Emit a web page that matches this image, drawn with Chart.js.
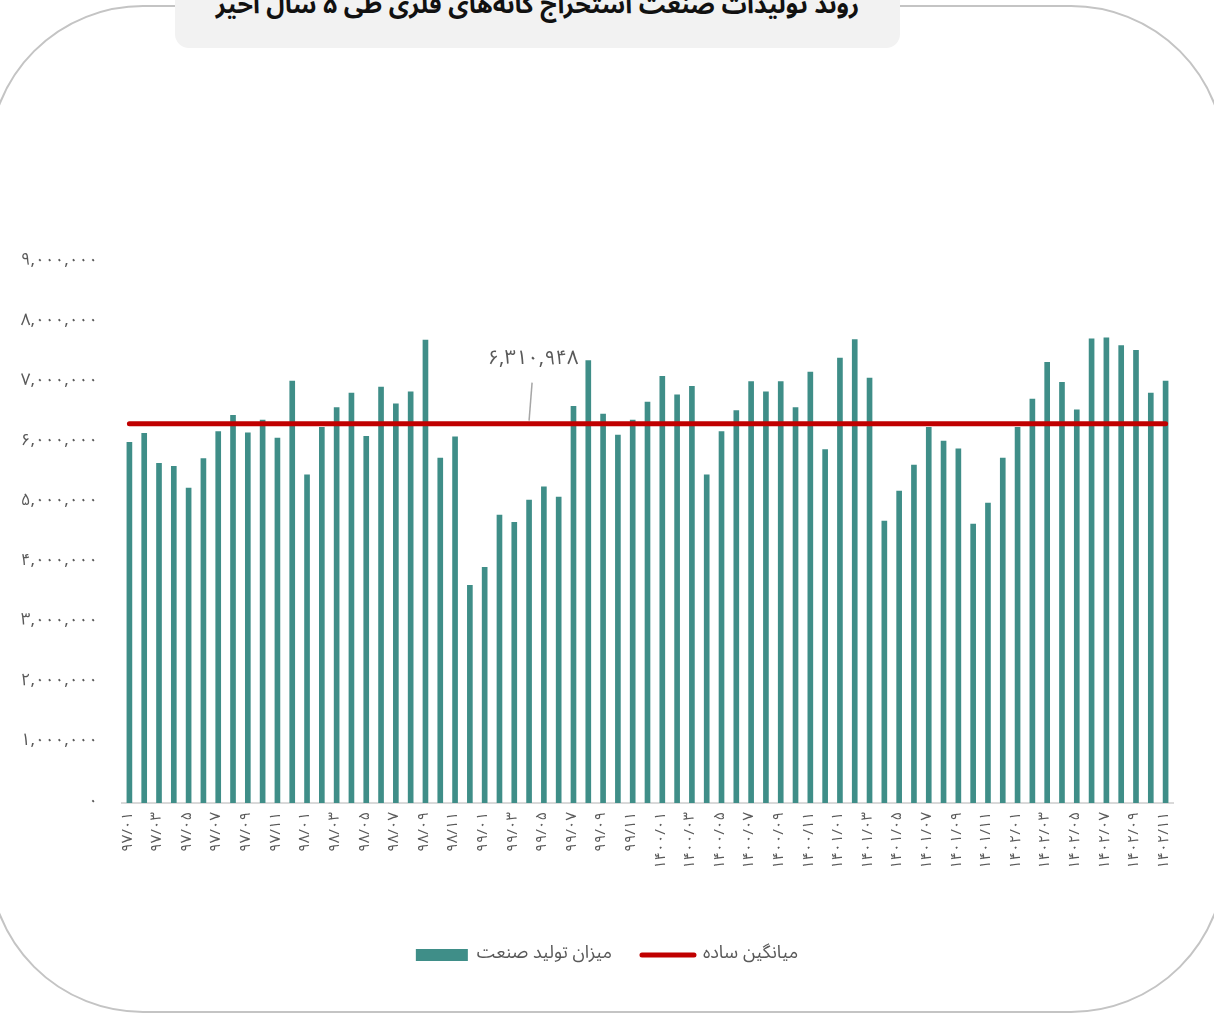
<!DOCTYPE html>
<html lang="fa">
<head>
<meta charset="utf-8">
<script src="https://cdn.jsdelivr.net/npm/chart.js@4/dist/chart.umd.min.js"></script>
<style>
  html, body { margin: 0; padding: 0; background: #fff; }
  body { width: 1214px; height: 1015px; position: relative; overflow: hidden; font-family: 'Noto Sans Arabic', 'DejaVu Sans', sans-serif; }
  .frame { position: absolute; left: -12px; top: 5px; width: 1234px; height: 1004px; border: 2px solid #c4c4c4; border-radius: 155px; }
  .titlebox { position: absolute; left: 175px; top: -20px; width: 725px; height: 68px; background: #f2f2f2; border-radius: 14px; }
  .title { position: absolute; left: 175px; width: 725px; top: -21px; text-align: center; font-weight: bold; font-size: 25px; color: #111; direction: rtl; }
  .wrap { position: absolute; left: 0; top: 0; width: 1214px; height: 974px; }
</style>
</head>
<body>
<div class="frame"></div>
<div class="titlebox"></div>
<div class="title">روند تولیدات صنعت استخراج کانه‌های فلزی طی ۵ سال اخیر</div>
<div class="wrap"><canvas id="chart"></canvas></div>
<script>
// ماه‌ها
const months = [
  '۹۷/۰۱','۹۷/۰۲','۹۷/۰۳','۹۷/۰۴','۹۷/۰۵','۹۷/۰۶','۹۷/۰۷','۹۷/۰۸','۹۷/۰۹','۹۷/۱۰','۹۷/۱۱','۹۷/۱۲',
  '۹۸/۰۱','۹۸/۰۲','۹۸/۰۳','۹۸/۰۴','۹۸/۰۵','۹۸/۰۶','۹۸/۰۷','۹۸/۰۸','۹۸/۰۹','۹۸/۱۰','۹۸/۱۱','۹۸/۱۲',
  '۹۹/۰۱','۹۹/۰۲','۹۹/۰۳','۹۹/۰۴','۹۹/۰۵','۹۹/۰۶','۹۹/۰۷','۹۹/۰۸','۹۹/۰۹','۹۹/۱۰','۹۹/۱۱','۹۹/۱۲',
  '۱۴۰۰/۰۱','۱۴۰۰/۰۲','۱۴۰۰/۰۳','۱۴۰۰/۰۴','۱۴۰۰/۰۵','۱۴۰۰/۰۶','۱۴۰۰/۰۷','۱۴۰۰/۰۸','۱۴۰۰/۰۹','۱۴۰۰/۱۰','۱۴۰۰/۱۱','۱۴۰۰/۱۲',
  '۱۴۰۱/۰۱','۱۴۰۱/۰۲','۱۴۰۱/۰۳','۱۴۰۱/۰۴','۱۴۰۱/۰۵','۱۴۰۱/۰۶','۱۴۰۱/۰۷','۱۴۰۱/۰۸','۱۴۰۱/۰۹','۱۴۰۱/۱۰','۱۴۰۱/۱۱','۱۴۰۱/۱۲',
  '۱۴۰۲/۰۱','۱۴۰۲/۰۲','۱۴۰۲/۰۳','۱۴۰۲/۰۴','۱۴۰۲/۰۵','۱۴۰۲/۰۶','۱۴۰۲/۰۷','۱۴۰۲/۰۸','۱۴۰۲/۰۹','۱۴۰۲/۱۰','۱۴۰۲/۱۱'
];

// میزان تولید صنعت
const production = [
  6000000, 6150000, 5650000, 5600000, 5240000, 5730000, 6180000, 6450000, 6160000, 6370000, 6070000, 7020000,
  5460000, 6250000, 6580000, 6820000, 6100000, 6920000, 6640000, 6840000, 7700000, 5740000, 6090000, 3620000,
  3920000, 4790000, 4670000, 5040000, 5260000, 5090000, 6600000, 7360000, 6470000, 6120000, 6370000, 6670000,
  7100000, 6790000, 6930000, 5460000, 6180000, 6530000, 7010000, 6840000, 7010000, 6580000, 7170000, 5880000,
  7400000, 7710000, 7070000, 4690000, 5190000, 5620000, 6250000, 6020000, 5890000, 4640000, 4990000, 5740000,
  6250000, 6720000, 7330000, 7000000, 6540000, 7720000, 7740000, 7610000, 7530000, 6820000, 7020000
];

// میانگین ساده
const average = 6310948;
const averageLine = months.map(() => average);
const labelIndex = 27;

const yMax = 9000000;
const yStep = 1000000;

const seriesNames = ['میزان تولید صنعت', 'میانگین ساده'];

const FONT = "'Noto Sans Arabic', 'DejaVu Sans', sans-serif";
const TEXT = '#595959';
const TEAL = '#3f8e88';
const RED = '#c00000';

function toFa(s) {
  return String(s).replace(/[0-9]/g, d => '۰۱۲۳۴۵۶۷۸۹'[d]);
}
function fmt(n) {
  return toFa(Math.round(n).toLocaleString('en-US'));
}

const avgLabel = {
  id: 'avgLabel',
  afterDatasetsDraw(chart) {
    const pt = chart.getDatasetMeta(1).data[labelIndex];
    if (!pt) return;
    const ctx = chart.ctx;
    ctx.save();
    ctx.strokeStyle = '#a6a6a6';
    ctx.lineWidth = 1.5;
    ctx.beginPath();
    ctx.moveTo(pt.x + 3, pt.y - 41);
    ctx.lineTo(pt.x, pt.y - 3);
    ctx.stroke();
    ctx.fillStyle = TEXT;
    ctx.font = '20px ' + FONT;
    ctx.textAlign = 'center';
    ctx.textBaseline = 'middle';
    ctx.fillText(fmt(average), pt.x + 4, pt.y - 63);
    ctx.restore();
  }
};

new Chart(document.getElementById('chart'), {
  data: {
    labels: months,
    datasets: [
      {
        type: 'bar',
        label: seriesNames[0],
        data: production,
        backgroundColor: TEAL,
        barThickness: 5,
        order: 1
      },
      {
        type: 'line',
        label: seriesNames[1],
        data: averageLine,
        borderColor: RED,
        backgroundColor: RED,
        borderWidth: 5,
        borderCapStyle: 'round',
        pointRadius: 0,
        tension: 0,
        order: 0
      }
    ]
  },
  options: {
    responsive: true,
    maintainAspectRatio: false,
    animation: false,
    layout: { padding: { top: 262, left: 0, right: 0, bottom: 0 } },
    plugins: {
      tooltip: { enabled: false },
      legend: {
        position: 'bottom',
        labels: {
          usePointStyle: true,
          pointStyleWidth: 52,
          boxHeight: 12,
          padding: 30,
          color: TEXT,
          font: { family: FONT, size: 18 },
          sort: (a, b) => a.datasetIndex - b.datasetIndex,
          generateLabels(chart) {
            const items = Chart.defaults.plugins.legend.labels.generateLabels(chart);
            items.forEach(it => {
              if (it.datasetIndex === 0) {
                it.pointStyle = 'rect';
                it.fillStyle = TEAL;
                it.lineWidth = 0;
              } else {
                it.pointStyle = 'line';
                it.strokeStyle = RED;
                it.lineWidth = 5;
                it.lineCap = 'round';
              }
            });
            return items;
          }
        }
      }
    },
    scales: {
      x: {
        grid: { display: false, drawTicks: false },
        border: { display: true, color: '#d9d9d9', width: 2 },
        afterFit: s => { s.height = 113; },
        ticks: {
          autoSkip: false,
          maxRotation: 90,
          minRotation: 90,
          padding: 9,
          color: TEXT,
          font: { family: FONT, size: 15 },
          callback: (v, i) => (i % 2 === 0 ? months[i] : '')
        }
      },
      y: {
        min: 0,
        max: yMax,
        grid: { display: false, drawTicks: false },
        border: { display: false },
        afterFit: s => { s.width = 122; },
        ticks: {
          stepSize: yStep,
          padding: 24,
          color: TEXT,
          font: { family: FONT, size: 17 },
          callback: v => fmt(v)
        }
      },
      yRight: {
        position: 'right',
        display: true,
        grid: { display: false, drawTicks: false },
        border: { display: false },
        ticks: { display: false },
        afterFit: s => { s.width = 41; }
      }
    }
  },
  plugins: [avgLabel]
});
</script>
</body>
</html>
